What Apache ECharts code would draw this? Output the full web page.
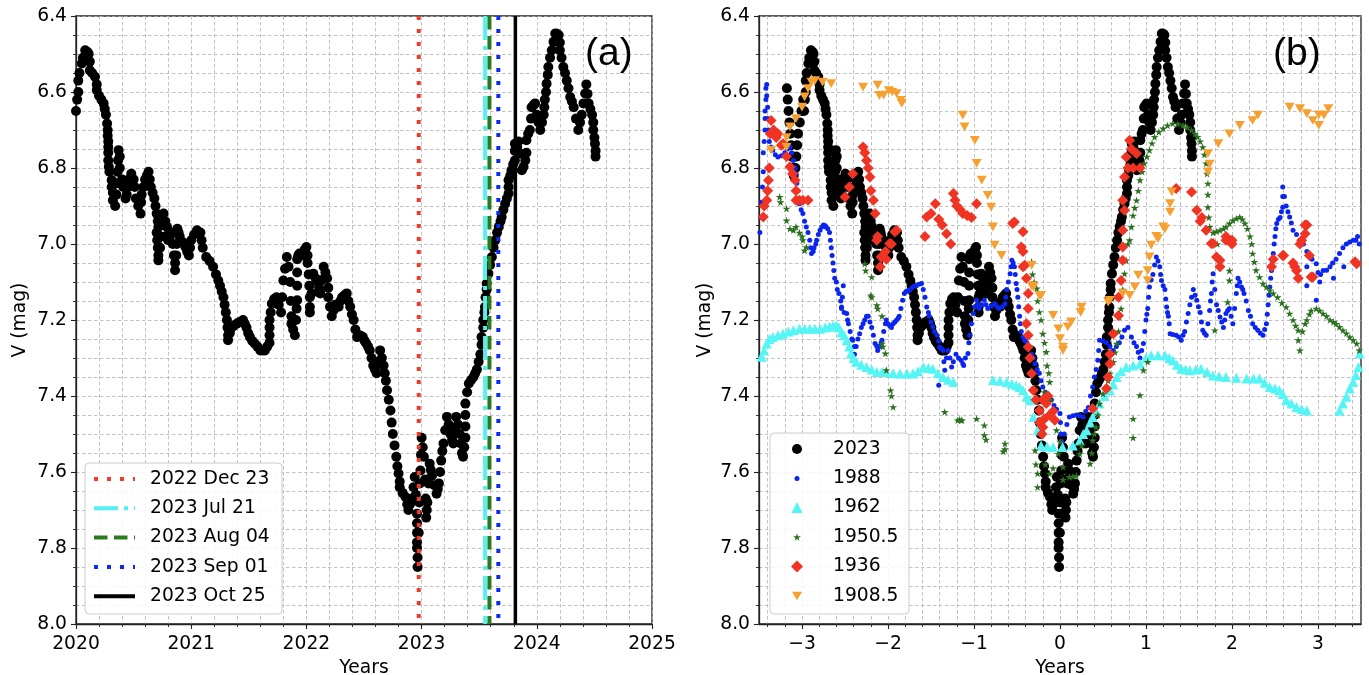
<!DOCTYPE html>
<html>
<head>
<meta charset="utf-8">
<script src="https://cdn.jsdelivr.net/npm/echarts@6/dist/echarts.min.js"></script>
<style>
html,body{margin:0;padding:0;background:#fff;}
#chart{width:1369px;height:675px;}
</style>
</head>
<body>
<div id="chart"></div>
<script>
// ---------------- DATA ----------------
// 2023 event: decimal year and V magnitude (panel a); panel b uses year - T0
const T0 = 2022.976;
const years2023 = [2019.80,2019.81,2019.82,2019.83,2019.84,2019.85,2019.86,2019.87,2019.88,2019.90,2019.91,2019.92,2019.93,2019.95,2019.97,2019.99,
2020.00,2020.01,2020.02,2020.02,2020.03,2020.05,2020.06,2020.08,2020.10,2020.11,2020.12,2020.12,2020.14,2020.165,2020.18,2020.18,2020.20,2020.22,2020.24,2020.25,2020.26,2020.27,2020.275,2020.275,2020.28,2020.28,2020.28,2020.28,2020.285,2020.29,2020.31,2020.31,2020.32,2020.32,2020.34,2020.35,2020.355,2020.36,2020.365,2020.37,2020.38,2020.38,2020.40,2020.41,2020.43,2020.44,2020.45,2020.46,2020.48,2020.50,2020.51,2020.52,2020.54,2020.56,2020.565,2020.57,2020.585,2020.60,2020.615,2020.63,2020.64,2020.65,2020.665,2020.68,2020.69,2020.70,2020.71,2020.715,2020.70,2020.705,2020.71,2020.715,2020.715,2020.73,2020.74,2020.75,2020.76,2020.775,2020.79,2020.80,2020.80,2020.815,2020.83,2020.84,2020.85,2020.86,2020.86,2020.87,2020.875,2020.88,2020.89,2020.90,2020.925,2020.95,2020.965,2020.98,2020.99,
2021.00,2021.025,2021.05,2021.065,2021.08,2021.09,2021.10,2021.13,2021.16,2021.19,2021.215,2021.235,2021.25,2021.265,2021.28,2021.29,2021.30,2021.31,2021.315,2021.32,2021.32,2021.335,2021.35,2021.37,2021.395,2021.42,2021.45,2021.465,2021.48,2021.495,2021.51,2021.53,2021.55,2021.575,2021.60,2021.62,2021.64,2021.66,2021.68,2021.68,2021.68,2021.68,2021.69,2021.70,2021.72,2021.74,2021.76,2021.78,2021.79,2021.80,2021.815,2021.83,2021.845,2021.86,2021.865,2021.87,2021.87,2021.885,2021.90,2021.91,2021.915,2021.92,2021.92,2021.92,2021.92,2021.93,2021.94,2021.955,2021.97,2021.985,
2022.00,2022.01,2022.01,2022.02,2022.025,2022.03,2022.03,2022.03,2022.045,2022.06,2022.08,2022.10,2022.11,2022.12,2022.135,2022.15,2022.165,2022.18,2022.19,2022.19,2022.205,2022.22,2022.235,2022.25,2022.265,2022.28,2022.295,2022.31,2022.33,2022.35,2022.365,2022.38,2022.395,2022.41,2022.425,2022.44,2022.46,2022.475,2022.49,2022.505,2022.52,2022.535,2022.55,2022.565,2022.58,2022.595,2022.61,2022.625,2022.64,2022.655,2022.67,2022.68,2022.69,2022.70,2022.715,2022.73,2022.74,2022.75,2022.765,2022.78,2022.79,2022.80,2022.81,2022.81,2022.835,2022.86,2022.875,2022.885,2022.90,2022.915,2022.93,2022.94,2022.95,2022.96,2022.96,2022.96,2022.96,2022.96,2022.965,2022.965,2022.975,2022.98,2022.985,2022.99,2022.995,
2023.00,2023.01,2023.02,2023.03,2023.035,2023.04,2023.045,2023.05,2023.06,2023.07,2023.08,2023.09,2023.11,2023.13,2023.14,2023.15,2023.16,2023.17,2023.18,2023.19,2023.205,2023.22,2023.235,2023.25,2023.265,2023.275,2023.29,2023.30,2023.315,2023.33,2023.34,2023.35,2023.36,2023.37,2023.38,2023.38,2023.38,2023.38,2023.395,2023.41,2023.43,2023.45,2023.465,2023.48,2023.495,2023.51,2023.52,2023.52,2023.535,2023.535,2023.545,2023.55,2023.555,2023.565,2023.565,2023.58,2023.595,2023.61,2023.625,2023.64,2023.655,2023.67,2023.685,2023.695,2023.71,2023.725,2023.74,2023.755,2023.755,2023.755,2023.77,2023.78,2023.795,2023.81,2023.81,2023.81,2023.83,2023.84,2023.855,2023.87,2023.885,2023.90,2023.91,2023.91,2023.925,2023.94,2023.95,2023.955,2023.97,2023.985,
2024.00,2024.015,2024.03,2024.045,2024.06,2024.065,2024.07,2024.08,2024.085,2024.095,2024.10,2024.115,2024.13,2024.145,2024.16,2024.175,2024.19,2024.20,2024.20,2024.215,2024.23,2024.245,2024.26,2024.275,2024.29,2024.305,2024.32,2024.34,2024.36,2024.375,2024.39,2024.405,2024.42,2024.43,2024.44,2024.45,2024.465,2024.48,2024.49,2024.49,2024.50,2024.505,2024.51,2024.51];
const mags2023 = [6.59,6.62,6.65,6.68,6.71,6.74,6.77,6.80,6.82,6.80,6.77,6.74,6.71,6.68,6.65,6.62,
6.65,6.62,6.60,6.57,6.55,6.525,6.51,6.49,6.495,6.50,6.52,6.543,6.55,6.56,6.58,6.595,6.61,6.62,6.63,6.645,6.66,6.683,6.70,6.715,6.73,6.745,6.76,6.78,6.797,6.81,6.832,6.85,6.865,6.885,6.90,6.87,6.84,6.81,6.78,6.753,6.77,6.80,6.83,6.85,6.88,6.87,6.85,6.83,6.815,6.83,6.85,6.88,6.90,6.92,6.89,6.87,6.85,6.83,6.82,6.81,6.83,6.85,6.865,6.88,6.90,6.92,6.94,6.955,6.97,6.99,7.01,7.03,7.043,7.01,6.98,6.95,6.92,6.94,6.955,6.975,6.99,6.98,6.97,7.00,7.03,7.05,7.069,7.03,7.00,6.96,6.97,6.98,6.995,7.008,7.02,7.03,7.01,
6.99,6.975,6.964,6.97,6.97,6.99,7.01,7.034,7.045,7.06,7.08,7.096,7.11,7.125,7.14,7.16,7.18,7.20,7.22,7.24,7.253,7.235,7.22,7.215,7.21,7.205,7.20,7.21,7.22,7.235,7.245,7.255,7.262,7.27,7.28,7.28,7.28,7.27,7.26,7.24,7.22,7.20,7.18,7.157,7.145,7.14,7.16,7.18,7.14,7.096,7.065,7.034,7.06,7.10,7.15,7.19,7.21,7.225,7.24,7.20,7.17,7.148,7.11,7.075,7.04,7.03,7.025,7.028,7.03,7.015,
7.008,7.03,7.05,7.08,7.11,7.14,7.166,7.18,7.13,7.078,7.09,7.10,7.115,7.13,7.095,7.06,7.075,7.09,7.115,7.14,7.165,7.19,7.175,7.16,7.16,7.165,7.15,7.14,7.135,7.13,7.15,7.165,7.185,7.20,7.225,7.245,7.24,7.242,7.245,7.255,7.262,7.27,7.28,7.30,7.32,7.33,7.34,7.31,7.28,7.30,7.32,7.34,7.36,7.385,7.41,7.438,7.47,7.50,7.53,7.56,7.585,7.604,7.625,7.64,7.655,7.666,7.685,7.70,7.685,7.67,7.64,7.613,7.66,7.71,7.735,7.76,7.785,7.80,7.825,7.85,7.76,7.68,7.63,7.596,7.555,
7.51,7.535,7.56,7.62,7.67,7.72,7.70,7.68,7.63,7.578,7.595,7.61,7.635,7.657,7.645,7.63,7.60,7.57,7.545,7.525,7.49,7.455,7.475,7.50,7.515,7.525,7.49,7.455,7.475,7.50,7.525,7.55,7.56,7.535,7.51,7.48,7.45,7.42,7.39,7.367,7.358,7.35,7.34,7.33,7.31,7.29,7.265,7.245,7.22,7.20,7.18,7.166,7.14,7.12,7.104,7.078,7.055,7.034,7.01,6.99,6.97,6.955,6.94,6.929,6.91,6.894,6.88,6.867,6.85,6.832,6.82,6.806,6.79,6.78,6.755,6.736,6.745,6.73,6.762,6.806,6.797,6.78,6.76,6.727,6.71,6.70,6.67,6.64,6.635,6.63,
6.66,6.68,6.70,6.68,6.66,6.64,6.62,6.60,6.578,6.555,6.534,6.51,6.49,6.468,6.446,6.447,6.45,6.47,6.49,6.51,6.534,6.55,6.57,6.59,6.613,6.625,6.64,6.67,6.70,6.68,6.66,6.63,6.604,6.58,6.605,6.63,6.645,6.66,6.68,6.70,6.72,6.736,6.755,6.77];

// Vertical event lines (panel a)
const eventNames = ['2022 Dec 23','2023 Jul 21','2023 Aug 04','2023 Sep 01','2023 Oct 25'];
const eventYears = [2022.975, 2023.551, 2023.589, 2023.666, 2023.814];

// Panel b comparison series: [years from minimum, V mag]
const s1988 = [[-3.49,6.97],[-3.48,6.93],[-3.47,6.89],[-3.46,6.85],[-3.45,6.81],[-3.45,6.76],[-3.44,6.73],[-3.43,6.70],[-3.43,6.67],[-3.43,6.65],[-3.42,6.62],[-3.42,6.59],[-3.41,6.58],[-3.41,6.61],[-3.40,6.64],[-3.40,6.67],[-3.39,6.70],[-3.38,6.73],[-3.36,6.745],[-3.34,6.753],[-3.31,6.765],[-3.28,6.771],[-3.24,6.768],[-3.20,6.76],[-3.17,6.75],[-3.14,6.745],[-3.12,6.76],[-3.10,6.78],[-3.08,6.80],[-3.07,6.815],[-3.06,6.84],[-3.05,6.86],[-3.04,6.88],[-3.03,6.894],[-3.01,6.91],[-2.99,6.92],[-2.97,6.94],[-2.95,6.955],[-2.93,6.97],[-2.91,6.99],[-2.90,7.01],[-2.89,7.025],[-2.87,7.02],[-2.86,7.01],[-2.84,7.0],[-2.83,6.99],[-2.81,6.975],[-2.79,6.964],[-2.77,6.955],[-2.75,6.95],[-2.73,6.952],[-2.72,6.955],[-2.70,6.96],[-2.68,6.97],[-2.67,6.99],[-2.66,7.01],[-2.65,7.03],[-2.64,7.05],[-2.63,7.07],[-2.62,7.09],[-2.60,7.10],[-2.59,7.12],[-2.57,7.13],[-2.55,7.15],[-2.54,7.166],[-2.52,7.11],[-2.53,7.14],[-2.54,7.17],[-2.51,7.18],[-2.48,7.183],[-2.47,7.20],[-2.46,7.21],[-2.44,7.23],[-2.42,7.25],[-2.41,7.253],[-2.39,7.27],[-2.37,7.27],[-2.39,7.29],[-2.35,7.25],[-2.33,7.236],[-2.31,7.22],[-2.29,7.21],[-2.27,7.20],[-2.25,7.19],[-2.23,7.19],[-2.21,7.205],[-2.19,7.22],[-2.17,7.24],[-2.15,7.262],[-2.13,7.27],[-2.12,7.28],[-2.10,7.27],[-2.08,7.26],[-2.07,7.253],[-2.05,7.23],[-2.03,7.21],[-2.02,7.20],[-2.0,7.21],[-1.98,7.215],[-1.96,7.22],[-1.94,7.21],[-1.92,7.205],[-1.90,7.20],[-1.88,7.195],[-1.87,7.19],[-1.85,7.17],[-1.83,7.148],[-1.81,7.13],[-1.79,7.125],[-1.77,7.123],[-1.75,7.122],[-1.72,7.115],[-1.69,7.11],[-1.67,7.11],[-1.64,7.106],[-1.61,7.104],[-1.59,7.12],[-1.57,7.14],[-1.55,7.166],[-1.53,7.18],[-1.52,7.19],[-1.50,7.205],[-1.48,7.218],[-1.46,7.23],[-1.43,7.24],[-1.41,7.255],[-1.40,7.271],[-1.38,7.275],[-1.36,7.28],[-1.35,7.31],[-1.34,7.332],[-1.41,7.372],[-1.32,7.30],[-1.30,7.28],[-1.28,7.30],[-1.26,7.324],[-1.24,7.31],[-1.21,7.29],[-1.18,7.30],[-1.15,7.306],[-1.13,7.315],[-1.12,7.32],[-1.10,7.30],[-1.07,7.288],[-1.06,7.26],[-1.05,7.24],[-1.03,7.21],[-1.01,7.183],[-0.99,7.165],[-0.97,7.148],[-0.95,7.16],[-0.94,7.17],[-0.91,7.16],[-0.88,7.148],[-0.86,7.16],[-0.84,7.17],[-0.80,7.163],[-0.76,7.157],[-0.73,7.165],[-0.71,7.17],[-0.67,7.165],[-0.64,7.157],[-0.63,7.14],[-0.62,7.12],[-0.60,7.10],[-0.58,7.078],[-0.57,7.06],[-0.56,7.043],[-0.545,7.05],[-0.53,7.06],[-0.52,7.08],[-0.51,7.104],[-0.50,7.12],[-0.49,7.14],[-0.48,7.165],[-0.47,7.19],[-0.46,7.21],[-0.45,7.23],[-0.43,7.245],[-0.41,7.253],[-0.385,7.26],[-0.36,7.27],[-0.33,7.29],[-0.31,7.30],[-0.29,7.315],[-0.265,7.33],[-0.24,7.34],[-0.22,7.36],[-0.2,7.376],[-0.17,7.39],[-0.13,7.40],[-0.1,7.41],[-0.07,7.425],[-0.04,7.435],[0.0,7.446],[0.005,7.47],[0.01,7.5],[0.02,7.52],[0.05,7.5],[0.08,7.475],[0.11,7.455],[0.15,7.452],[0.19,7.45],[0.23,7.452],[0.27,7.455],[0.30,7.44],[0.33,7.43],[0.355,7.40],[0.38,7.376],[0.40,7.35],[0.42,7.33],[0.44,7.306],[0.45,7.28],[0.46,7.253],[0.50,7.255],[0.54,7.26],[0.58,7.27],[0.62,7.28],[0.655,7.27],[0.69,7.26],[0.72,7.245],[0.75,7.227],[0.79,7.22],[0.83,7.245],[0.86,7.26],[0.89,7.27],[0.91,7.285],[0.93,7.3],[0.95,7.28],[0.97,7.262],[0.985,7.23],[1.0,7.2],[1.01,7.185],[1.02,7.17],[1.03,7.14],[1.04,7.113],[1.06,7.095],[1.08,7.08],[1.10,7.055],[1.12,7.034],[1.14,7.045],[1.16,7.06],[1.17,7.08],[1.18,7.096],[1.20,7.11],[1.22,7.12],[1.23,7.145],[1.24,7.166],[1.25,7.18],[1.26,7.19],[1.27,7.21],[1.28,7.236],[1.31,7.238],[1.35,7.24],[1.38,7.245],[1.41,7.253],[1.43,7.24],[1.45,7.23],[1.47,7.205],[1.49,7.183],[1.51,7.16],[1.53,7.14],[1.55,7.12],[1.57,7.135],[1.59,7.148],[1.61,7.165],[1.63,7.18],[1.645,7.205],[1.66,7.227],[1.68,7.235],[1.70,7.24],[1.72,7.21],[1.74,7.175],[1.75,7.15],[1.76,7.13],[1.77,7.10],[1.78,7.078],[1.80,7.12],[1.82,7.16],[1.84,7.175],[1.86,7.192],[1.88,7.205],[1.90,7.22],[1.915,7.20],[1.93,7.183],[1.95,7.175],[1.97,7.17],[1.99,7.19],[2.01,7.21],[2.03,7.17],[2.05,7.13],[2.06,7.11],[2.07,7.09],[2.09,7.10],[2.11,7.113],[2.125,7.12],[2.14,7.13],[2.165,7.15],[2.19,7.175],[2.215,7.19],[2.24,7.21],[2.27,7.22],[2.30,7.227],[2.33,7.235],[2.36,7.24],[2.38,7.225],[2.40,7.21],[2.41,7.185],[2.42,7.16],[2.43,7.135],[2.44,7.113],[2.45,7.09],[2.46,7.07],[2.47,7.045],[2.48,7.025],[2.49,7.0],[2.50,6.98],[2.51,6.96],[2.52,6.946],[2.54,6.935],[2.56,6.93],[2.575,6.915],[2.59,6.903],[2.59,6.875],[2.59,6.85],[2.61,6.875],[2.63,6.9],[2.65,6.915],[2.67,6.929],[2.69,6.945],[2.71,6.964],[2.75,6.975],[2.79,6.99],[2.83,7.0],[2.87,7.02],[2.87,7.06],[2.87,7.11],[2.93,7.04],[2.98,7.052],[3.0,7.075],[3.02,7.1],[3.03,7.08],[3.06,7.07],[3.1,7.069],[3.14,7.06],[3.17,7.05],[3.21,7.04],[3.25,7.025],[3.29,7.01],[3.33,7.0],[3.37,6.995],[3.41,6.99],[3.44,6.99],[3.46,6.98],[3.48,7.0],[2.98,7.148],[3.18,7.09],[3.3,7.06]];
const s1962 = [[-3.47,7.297],[-3.44,7.28],[-3.41,7.262],[-3.38,7.25],[-3.34,7.245],[-3.28,7.24],[-3.22,7.236],[-3.16,7.23],[-3.10,7.227],[-3.03,7.223],[-2.97,7.223],[-2.91,7.223],[-2.85,7.223],[-2.79,7.223],[-2.73,7.22],[-2.68,7.218],[-2.64,7.215],[-2.6,7.214],[-2.57,7.22],[-2.54,7.232],[-2.51,7.24],[-2.48,7.253],[-2.45,7.27],[-2.43,7.288],[-2.40,7.30],[-2.37,7.31],[-2.31,7.318],[-2.25,7.324],[-2.19,7.33],[-2.13,7.337],[-2.07,7.337],[-2.02,7.337],[-1.94,7.34],[-1.86,7.341],[-1.78,7.341],[-1.71,7.341],[-1.65,7.335],[-1.59,7.324],[-1.53,7.326],[-1.48,7.328],[-1.42,7.34],[-1.36,7.35],[-1.30,7.357],[-1.24,7.363],[-0.78,7.358],[-0.70,7.36],[-0.62,7.363],[-0.56,7.368],[-0.51,7.372],[-0.47,7.376],[-0.43,7.385],[-0.39,7.402],[-0.35,7.411],[-0.31,7.455],[-0.26,7.49],[-0.22,7.53],[-0.15,7.533],[-0.08,7.534],[0.03,7.534],[0.15,7.53],[0.23,7.517],[0.27,7.50],[0.31,7.49],[0.35,7.47],[0.38,7.455],[0.42,7.44],[0.46,7.42],[0.52,7.40],[0.58,7.385],[0.62,7.37],[0.66,7.35],[0.71,7.335],[0.77,7.324],[0.85,7.32],[0.93,7.315],[1.0,7.30],[1.06,7.293],[1.14,7.293],[1.22,7.293],[1.27,7.30],[1.31,7.306],[1.36,7.318],[1.41,7.328],[1.46,7.33],[1.51,7.332],[1.58,7.33],[1.64,7.328],[1.71,7.337],[1.78,7.346],[1.85,7.348],[1.93,7.35],[2.05,7.352],[2.17,7.354],[2.25,7.354],[2.32,7.354],[2.38,7.365],[2.44,7.376],[2.50,7.38],[2.55,7.385],[2.59,7.395],[2.63,7.411],[2.69,7.42],[2.75,7.429],[2.81,7.434],[2.87,7.438],[3.25,7.438],[3.29,7.42],[3.33,7.402],[3.37,7.38],[3.41,7.363],[3.44,7.345],[3.47,7.324],[3.485,7.288]];
const s1950 = [[-3.26,6.876],[-3.25,6.89],[-3.18,6.907],[-3.18,6.938],[-3.14,6.96],[-3.10,6.964],[-3.07,6.955],[-3.03,6.97],[-3.0,6.98],[-2.99,6.99],[-2.97,7.017],[-2.95,7.008],[-2.27,7.052],[-2.26,7.07],[-2.19,7.087],[-2.20,7.135],[-2.19,7.14],[-2.13,7.161],[-2.12,7.17],[-2.07,7.19],[-2.07,7.262],[-2.06,7.27],[-2.03,7.288],[-2.02,7.332],[-1.97,7.385],[-1.96,7.40],[-1.94,7.429],[-1.34,7.442],[-1.19,7.464],[-1.17,7.462],[-1.15,7.464],[-1.14,7.464],[-0.97,7.46],[-0.88,7.477],[-0.88,7.503],[-0.86,7.515],[-0.64,7.525],[-0.66,7.546],[-0.64,7.54],[-0.33,7.047],[-0.32,7.08],[-0.30,7.10],[-0.27,7.117],[-0.26,7.15],[-0.24,7.179],[-0.22,7.2],[-0.2,7.236],[-0.18,7.26],[-0.16,7.284],[-0.15,7.32],[-0.13,7.34],[-0.12,7.363],[-0.11,7.41],[-0.18,7.39],[-0.29,7.543],[-0.28,7.58],[-0.26,7.604],[-0.26,7.64],[-0.17,7.58],[-0.12,7.604],[-0.08,7.59],[-0.04,7.49],[-0.02,7.552],[0.0,7.52],[0.035,7.587],[0.035,7.62],[0.11,7.613],[0.15,7.612],[0.19,7.61],[0.23,7.552],[0.25,7.53],[0.35,7.578],[0.37,7.55],[0.38,7.517],[0.40,7.50],[0.42,7.482],[0.44,7.45],[0.46,7.42],[0.5,7.394],[0.54,7.38],[0.56,7.36],[0.58,7.341],[0.62,7.31],[0.64,7.285],[0.66,7.262],[0.68,7.23],[0.69,7.192],[0.71,7.17],[0.73,7.12],[0.75,7.078],[0.77,7.043],[0.79,7.0],[0.81,6.99],[0.83,6.955],[0.85,6.925],[0.87,6.905],[0.89,6.885],[0.91,6.86],[0.93,6.832],[0.955,6.81],[0.98,6.788],[1.01,6.77],[1.04,6.753],[1.07,6.735],[1.1,6.718],[1.15,6.705],[1.2,6.696],[1.25,6.688],[1.31,6.683],[1.37,6.684],[1.43,6.688],[1.48,6.693],[1.53,6.70],[1.57,6.71],[1.6,6.718],[1.63,6.73],[1.66,6.745],[1.68,6.765],[1.7,6.788],[1.71,6.815],[1.72,6.841],[1.72,6.87],[1.72,6.903],[1.73,6.93],[1.74,6.955],[1.78,6.97],[1.82,6.967],[1.86,6.964],[1.9,6.96],[1.93,6.955],[1.97,6.946],[2.01,6.938],[2.05,6.933],[2.09,6.929],[2.12,6.935],[2.15,6.946],[2.18,6.96],[2.21,6.98],[2.23,7.0],[2.24,7.025],[2.26,7.047],[2.28,7.069],[2.32,7.087],[2.36,7.104],[2.40,7.113],[2.44,7.122],[2.48,7.13],[2.53,7.14],[2.58,7.155],[2.63,7.166],[2.67,7.183],[2.71,7.2],[2.74,7.215],[2.77,7.227],[2.77,7.253],[2.79,7.28],[2.82,7.23],[2.85,7.21],[2.87,7.2],[2.90,7.185],[2.92,7.175],[2.98,7.17],[3.02,7.175],[3.06,7.183],[3.10,7.19],[3.14,7.2],[3.18,7.205],[3.21,7.21],[3.25,7.218],[3.29,7.227],[3.33,7.235],[3.37,7.245],[3.41,7.253],[3.45,7.262],[3.48,7.28],[0.85,7.46],[0.85,7.51],[0.93,7.398],[0.97,7.332],[1.02,7.31],[1.95,7.153],[1.8,7.227],[1.97,7.096],[1.97,7.07],[1.83,7.0]];
const s1936 = [[-3.45,6.929],[-3.44,6.90],[-3.41,6.885],[-3.40,6.86],[-3.39,6.832],[-3.38,6.80],[-3.37,6.71],[-3.36,6.675],[-3.33,6.70],[-3.30,6.72],[-3.28,6.71],[-3.24,6.74],[-3.22,6.736],[-3.18,6.77],[-3.14,6.797],[-3.11,6.815],[-3.08,6.832],[-3.07,6.86],[-3.07,6.885],[-3.03,6.885],[-2.99,6.885],[-2.93,6.885],[-2.5,6.876],[-2.45,6.85],[-2.41,6.815],[-2.29,6.745],[-2.27,6.76],[-2.25,6.78],[-2.23,6.80],[-2.21,6.824],[-2.20,6.86],[-2.17,6.885],[-2.15,6.92],[-2.13,6.99],[-2.12,6.98],[-2.09,7.06],[-2.08,7.034],[-2.03,7.02],[-2.02,7.04],[-1.98,6.999],[-1.96,7.0],[-1.92,6.968],[-1.9,6.964],[-1.57,6.98],[-1.55,6.929],[-1.50,6.92],[-1.45,6.894],[-1.41,6.935],[-1.37,6.95],[-1.32,6.973],[-1.27,7.0],[-1.24,6.867],[-1.22,6.885],[-1.2,6.9],[-1.16,6.91],[-1.13,6.92],[-1.08,6.925],[-1.03,6.93],[-0.97,6.894],[-0.55,6.946],[-0.53,6.942],[-0.45,7.008],[-0.43,6.968],[-0.43,7.02],[-0.43,7.06],[-0.41,7.056],[-0.39,7.09],[-0.37,7.13],[-0.37,7.17],[-0.39,7.21],[-0.37,7.24],[-0.37,7.271],[-0.35,7.3],[-0.33,7.341],[-0.31,7.385],[-0.28,7.41],[-0.24,7.438],[-0.2,7.482],[-0.21,7.5],[-0.16,7.42],[-0.08,7.44],[-0.06,7.464],[-0.12,7.45],[-0.18,7.46],[-0.24,7.47],[-0.14,7.40],[-0.2,7.41],[0.38,7.433],[0.54,7.38],[0.56,7.35],[0.58,7.315],[0.58,7.29],[0.62,7.236],[0.68,7.188],[0.68,7.14],[0.71,7.096],[0.73,7.043],[0.73,7.008],[0.73,6.964],[0.75,6.911],[0.73,6.885],[0.75,6.824],[0.77,6.771],[0.81,6.727],[0.85,6.80],[0.89,6.762],[0.93,6.80],[0.83,6.75],[0.79,6.80],[1.35,6.854],[1.53,6.863],[1.59,6.911],[1.63,6.94],[1.65,6.93],[1.7,6.964],[1.76,6.999],[1.78,6.999],[1.82,7.034],[1.86,7.06],[1.86,7.043],[1.93,6.98],[1.93,6.99],[2.0,7.0],[2.0,6.99],[2.46,7.06],[2.48,7.04],[2.59,7.03],[2.6,7.03],[2.71,7.05],[2.73,7.06],[2.75,7.07],[2.77,7.09],[2.79,7.0],[2.81,6.99],[2.85,6.95],[2.85,6.973],[2.87,6.95],[2.9,7.03],[2.92,7.087],[2.94,7.087],[3.43,7.047],[3.45,7.052]];
const s1908 = [[-3.36,6.753],[-3.18,6.745],[-3.18,6.72],[-3.14,6.692],[-3.07,6.67],[-3.0,6.64],[-2.97,6.613],[-2.93,6.591],[-2.89,6.574],[-2.85,6.57],[-2.76,6.574],[-2.66,6.578],[-2.29,6.587],[-2.12,6.582],[-2.1,6.609],[-2.05,6.608],[-1.99,6.596],[-1.95,6.60],[-1.9,6.604],[-1.85,6.622],[-1.84,6.63],[-1.13,6.661],[-1.11,6.692],[-0.99,6.727],[-0.97,6.788],[-0.91,6.832],[-0.84,6.872],[-0.8,6.903],[-0.78,6.955],[-0.76,7.003],[-0.68,7.03],[-0.33,7.056],[-0.33,7.11],[-0.31,7.113],[-0.24,7.135],[-0.22,7.135],[-0.08,7.188],[-0.02,7.223],[0.0,7.249],[0.035,7.271],[0.035,7.28],[0.09,7.218],[0.13,7.205],[0.25,7.166],[0.24,7.18],[0.56,7.153],[0.58,7.148],[0.73,7.13],[0.81,7.135],[0.87,7.113],[0.91,7.082],[1.02,7.096],[1.02,7.07],[1.04,7.034],[1.06,7.003],[1.12,6.98],[1.14,6.986],[1.2,6.955],[1.22,6.96],[1.28,6.916],[1.28,6.894],[1.3,6.863],[1.72,6.762],[1.72,6.81],[1.74,6.79],[1.84,6.736],[1.97,6.71],[2.09,6.688],[2.24,6.675],[2.3,6.661],[2.67,6.64],[2.79,6.644],[2.87,6.657],[2.94,6.675],[3.01,6.688],[3.01,6.66],[3.07,6.661],[3.12,6.644]];

// Axis tick values
const xTicksB = [-3, -2, -1, 0, 1, 2, 3];

// ---------------- CHART ----------------
const FONT = 'DejaVu Sans';
const FS = 18.7;
const GRID_COLOR = '#b3b3b3';
const DASH = [3.5, 2.5];
const chart = echarts.init(document.getElementById('chart'));

function valueX(grid, min, max, opts) {
  return Object.assign({
    type: 'value', gridIndex: grid, min: min, max: max,
    name: 'Years', nameLocation: 'middle', nameGap: 32,
    nameTextStyle: {fontFamily: FONT, fontSize: FS, color: '#000'},
    axisLine: {show: true, onZero: false, lineStyle: {color: '#222', width: 1.3}},
    axisTick: {show: true, length: 5, lineStyle: {color: '#222', width: 1.1}},
    minorTick: {show: true, splitNumber: 5, length: 3, lineStyle: {color: '#222', width: 0.9}},
    splitLine: {show: true, lineStyle: {type: DASH, color: GRID_COLOR, width: 0.8}},
    minorSplitLine: {show: true, lineStyle: {type: DASH, color: GRID_COLOR, width: 0.8}}
  }, opts);
}
function valueY(grid, nameGap) {
  return {
    type: 'value', gridIndex: grid, inverse: true, min: 6.4, max: 8.0, interval: 0.2,
    name: 'V (mag)', nameLocation: 'middle', nameGap: nameGap,
    nameTextStyle: {fontFamily: FONT, fontSize: FS, color: '#000'},
    axisLine: {show: true, onZero: false, lineStyle: {color: '#222', width: 1.3}},
    axisTick: {show: true, length: 5, lineStyle: {color: '#222', width: 1.1}},
    minorTick: {show: true, splitNumber: 4, length: 3, lineStyle: {color: '#222', width: 0.9}},
    splitLine: {show: true, lineStyle: {type: DASH, color: GRID_COLOR, width: 0.8}},
    minorSplitLine: {show: true, lineStyle: {type: DASH, color: GRID_COLOR, width: 0.8}},
    axisLabel: {fontFamily: FONT, fontSize: FS, color: '#000', margin: 9, formatter: v => v.toFixed(1)}
  };
}

const lineStyles = [
  {color: '#f03a2c', width: 4, type: [4, 9]},
  {color: '#55f0f0', width: 4, type: [24, 6, 4, 6]},
  {color: '#2b7a1f', width: 4, type: [13.5, 6.5]},
  {color: '#0b2bf2', width: 4, type: [4, 9]},
  {color: '#000000', width: 3.5, type: 'solid'}
];

const series = [];
series.push({
  type: 'scatter', name: 'panelA2023', xAxisIndex: 0, yAxisIndex: 0,
  data: years2023.map((y, i) => [y, mags2023[i]]),
  symbol: 'circle', symbolSize: 10, itemStyle: {color: '#000', opacity: 1}, silent: true, clip: true
});
eventYears.forEach((d, i) => {
  series.push({
    type: 'line', name: eventNames[i], xAxisIndex: 0, yAxisIndex: 0,
    data: [[d, 6.4], [d, 8.0]], symbol: 'none', silent: true,
    lineStyle: lineStyles[i], itemStyle: {color: lineStyles[i].color, opacity: 0}, z: 3
  });
});

const STAR = 'path://M50,0 L61,35 L98,35 L68,57 L79,91 L50,70 L21,91 L32,57 L2,35 L39,35 Z';
const DTRI = 'path://M0,0 L100,0 L50,87 Z';
const bSeries = [
  {name: '2023', data: years2023.map((y, i) => [+(y - T0).toFixed(3), mags2023[i]]), symbol: 'circle', size: 10, color: '#000000', legSize: 10},
  {name: '1988', data: s1988, symbol: 'circle', size: 5, color: '#0b25f0', legSize: 5},
  {name: '1962', data: s1962, symbol: 'triangle', size: 10, color: '#55f5f5', legSize: 11},
  {name: '1950.5', data: s1950, symbol: STAR, size: 8, color: '#2a701e', legSize: 8},
  {name: '1936', data: s1936, symbol: 'diamond', size: 11, color: '#f03322', legSize: 12},
  {name: '1908.5', data: s1908, symbol: DTRI, size: 10, color: '#f5a030', legSize: 10}
];
bSeries.forEach(s => {
  series.push({
    type: 'scatter', name: s.name, xAxisIndex: 1, yAxisIndex: 1, data: s.data,
    symbol: s.symbol, symbolSize: s.size, symbolKeepAspect: true,
    itemStyle: {color: s.color, opacity: 1}, silent: true, clip: true
  });
});

const legendRowsB = [449, 478.5, 507.5, 537, 566.5, 596];
const LEG_MARK_X = 797, LEG_TEXT_X = 833;
const legends = [{
  data: eventNames, orient: 'vertical', left: 92, top: 469, padding: 0,
  itemWidth: 41, itemHeight: 14, itemGap: 9.3, selectedMode: false,
  itemStyle: {opacity: 0},
  lineStyle: {width: 4},
  textStyle: {fontFamily: FONT, fontSize: FS, color: '#000', lineHeight: 20, padding: [0, 0, 0, 10]},
  z: 6
}];
bSeries.forEach((s, i) => {
  const left = LEG_MARK_X - s.legSize / 2;
  const pad = LEG_TEXT_X - (left + s.legSize + 5);
  legends.push({
    data: [{name: s.name, itemStyle: {opacity: 1}}], left: left, top: legendRowsB[i] - 10, padding: 0,
    itemWidth: s.legSize, itemHeight: s.legSize, selectedMode: false, symbolKeepAspect: true,
    textStyle: {fontFamily: FONT, fontSize: FS, color: '#000', lineHeight: 20, padding: [0, 0, 0, pad]},
    z: 6
  });
});

const option = {
  animation: false,
  backgroundColor: '#ffffff',
  grid: [
    {left: 76, top: 16, width: 576, height: 608, show: true, borderColor: '#222', borderWidth: 1.3, backgroundColor: 'transparent', containLabel: false, outerBoundsMode: 'none'},
    {left: 759, top: 16, width: 602, height: 608, show: true, borderColor: '#222', borderWidth: 1.3, backgroundColor: 'transparent', containLabel: false, outerBoundsMode: 'none'}
  ],
  title: [
    {text: '(a)', left: 585, top: 35, padding: 0, textStyle: {fontFamily: 'Liberation Sans', fontSize: 39, fontWeight: 'normal', color: '#000'}},
    {text: '(b)', left: 1273, top: 35, padding: 0, textStyle: {fontFamily: 'Liberation Sans', fontSize: 39, fontWeight: 'normal', color: '#000'}}
  ],
  xAxis: [
    valueX(0, 2020, 2025, {interval: 1, axisLabel: {fontFamily: FONT, fontSize: FS, color: '#000', margin: 11, formatter: v => String(v)}}),
    valueX(1, -3.5, 3.5, {
      splitNumber: 7,
      axisTick: {show: true, length: 5, lineStyle: {color: '#222', width: 1.1}, customValues: xTicksB},
      axisLabel: {fontFamily: FONT, fontSize: FS, color: '#000', margin: 11, customValues: xTicksB,
        formatter: v => (v < 0 ? '\u2212' + Math.abs(v) : String(v))}
    })
  ],
  yAxis: [valueY(0, 46), valueY(1, 44)],
  legend: legends,
  graphic: [
    {type: 'rect', z: 5, shape: {x: 85, y: 463, width: 197, height: 151, r: 4},
     style: {fill: 'rgba(255,255,255,0.85)', stroke: '#cccccc', lineWidth: 1}},
    {type: 'rect', z: 5, shape: {x: 770, y: 433, width: 139, height: 181, r: 4},
     style: {fill: 'rgba(255,255,255,0.85)', stroke: '#cccccc', lineWidth: 1}}
  ],
  series: series
};
chart.setOption(option);
</script>
</body>
</html>
